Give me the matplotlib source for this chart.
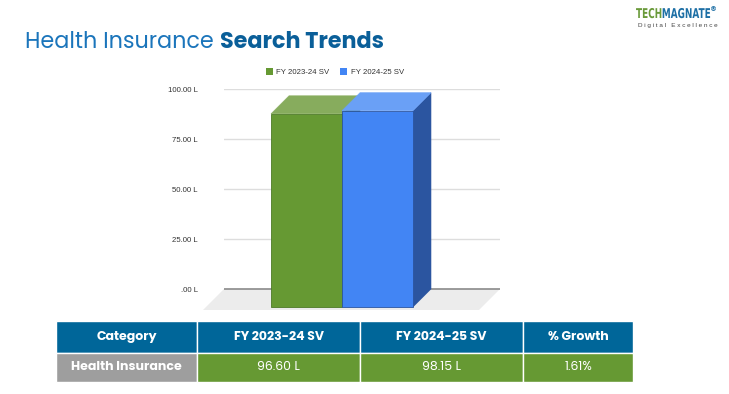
import matplotlib
matplotlib.use('Agg')
import matplotlib.pyplot as plt
from matplotlib.patches import Polygon, Rectangle, Patch, PathPatch
from matplotlib.textpath import TextPath
from matplotlib.font_manager import FontProperties
from matplotlib.transforms import Affine2D

# --- data ---
categories = ['Health Insurance']
series = ['FY 2023-24 SV', 'FY 2024-25 SV']
sv_2324 = [96.60]
sv_2425 = [98.15]
growth = [1.61]
yticks = [0, 25, 50, 75, 100]
ytick_labels = ['.00 L', '25.00 L', '50.00 L', '75.00 L', '100.00 L']
header = ['Category', 'FY 2023-24 SV', 'FY 2024-25 SV', '% Growth']

W, H = 729, 394
fig = plt.figure(figsize=(W / 100, H / 100), dpi=100)
fig.patch.set_facecolor('white')

def fx(px): return px / W
def fy(py): return 1 - py / H

tf = ['Poppins', 'Open Sans', 'DejaVu Sans']

# --- title ---
r = fig.canvas.get_renderer()
t1 = fig.text(fx(25), fy(48), 'Health Insurance ', fontsize=16, color='#1b75bb',
              family=tf, fontweight='normal', va='baseline')
bb = t1.get_window_extent(r)
fig.text(bb.x1 / W, fy(48), 'Search Trends', fontsize=16, color='#0a5f99',
         family=tf, fontweight='bold', va='baseline')

# --- logo (condensed via path scaling, pixel space) ---
fp = FontProperties(family='DejaVu Sans', weight='bold')
x = 636
for txt, col in [('TECH', '#6a9a3a'), ('MAGNATE', '#1d6fa5')]:
    tp = TextPath((0, 0), txt, size=13.5, prop=fp)
    ext = tp.get_extents()
    tr = Affine2D().scale(0.66, 1).translate(x, H - 18)
    fig.patches.append(PathPatch(tr.transform_path(tp), facecolor=col, edgecolor='none',
                                 transform=None))
    x += ext.x1 * 0.66 + 0.5
fig.text(fx(x - 1), fy(11), '®', fontsize=5, color='#1d6fa5', fontweight='bold', va='baseline')
fig.text(fx(678), fy(27.5), ' '.join('Digital Excellence'), fontsize=4.6, color='#444444',
         family='Liberation Sans', ha='center', va='baseline')

# --- 3D bar chart ---
ax_l, ax_r = 224, 500
y0px, y100px = 289, 89
ppu = (y0px - y100px) / 100          # px per value unit
ymin = -12
ax = fig.add_axes([fx(ax_l), fy(y0px - ymin * ppu), (ax_r - ax_l) / W, (100 - ymin) * ppu / H])
bw_px = 71
xmin = -(271 + bw_px - ax_l) / bw_px
xmax = xmin + (ax_r - ax_l) / bw_px
ax.set_xlim(xmin, xmax)
ax.set_ylim(ymin, 100)
for s in ax.spines.values():
    s.set_visible(False)
ax.set_xticks([])
ax.set_yticks(yticks)
ax.set_yticklabels(ytick_labels, family='Liberation Sans', fontsize=5.6, color='#333333')
ax.tick_params(axis='y', length=0, pad=19)

# floor
fdx, fdy = 21 / bw_px, 21 / ppu
ax.add_patch(Polygon([(xmin, 0), (xmax, 0), (xmax - fdx, -fdy), (xmin - fdx, -fdy)],
                     closed=True, facecolor='#ececec', edgecolor='none', clip_on=False, zorder=1))
for v in yticks[1:]:
    ax.axhline(v, color='#dddddd', lw=1, zorder=1)
ax.axhline(0, color='#8a8a8a', lw=1.2, zorder=2)

dx, dy = 18 / bw_px, 18 / ppu
bars = [
    (-1, sv_2324[0], '#669933', '#87ac5d', '#4d7a26'),
    (0, sv_2425[0], '#4285f4', '#6aa0f6', '#2b55a0'),
]
for x0, v, front, top, side in bars:
    ax.add_patch(Polygon([(x0 + 1, -dy), (x0 + 1 + dx, 0), (x0 + 1 + dx, v), (x0 + 1, v - dy)],
                         closed=True, facecolor=side, edgecolor=side, lw=0.4, zorder=3))
    ax.add_patch(Polygon([(x0, v - dy), (x0 + 1, v - dy), (x0 + 1 + dx, v), (x0 + dx, v)],
                         closed=True, facecolor=top, edgecolor=top, lw=0.4, zorder=3))
    ax.add_patch(Rectangle((x0, -dy), 1, v, facecolor=front, edgecolor=side, lw=0.6,
                           clip_on=False, zorder=3))

handles = [Patch(facecolor='#669933'), Patch(facecolor='#4285f4')]
fig.legend(handles, series, loc='center', bbox_to_anchor=(fx(335), fy(72)), ncol=2, frameon=False,
           prop={'family': 'Liberation Sans', 'size': 5.6}, handlelength=0.9, handleheight=0.9,
           handletextpad=0.5, columnspacing=1.4, labelcolor='#333333')

# --- table ---
cols = [56, 197, 360, 523, 633]
rows = [321, 353, 382]
row_vals = [categories[0], f'{sv_2324[0]:.2f} L', f'{sv_2425[0]:.2f} L', f'{growth[0]:.2f}%']
row_colors = ['#9e9e9e', '#669933', '#669933', '#669933']
for i in range(4):
    x0, x1 = cols[i], cols[i + 1]
    fig.patches.append(Rectangle((fx(x0), fy(rows[1])), (x1 - x0) / W, (rows[1] - rows[0]) / H,
                                 transform=fig.transFigure, facecolor='#006699',
                                 edgecolor='white', lw=1))
    fig.patches.append(Rectangle((fx(x0), fy(rows[2])), (x1 - x0) / W, (rows[2] - rows[1]) / H,
                                 transform=fig.transFigure, facecolor=row_colors[i],
                                 edgecolor='white', lw=1))
    cx = fx((x0 + x1) / 2)
    fig.text(cx, fy((rows[0] + rows[1]) / 2), header[i], ha='center', va='center',
             color='white', fontsize=9, fontweight='bold', family=tf)
    fig.text(cx, fy((rows[1] + rows[2]) / 2), row_vals[i], ha='center', va='center',
             color='white', fontsize=9, fontweight='bold' if i == 0 else 'normal', family=tf)

fig.savefig('out.png', dpi=100)
